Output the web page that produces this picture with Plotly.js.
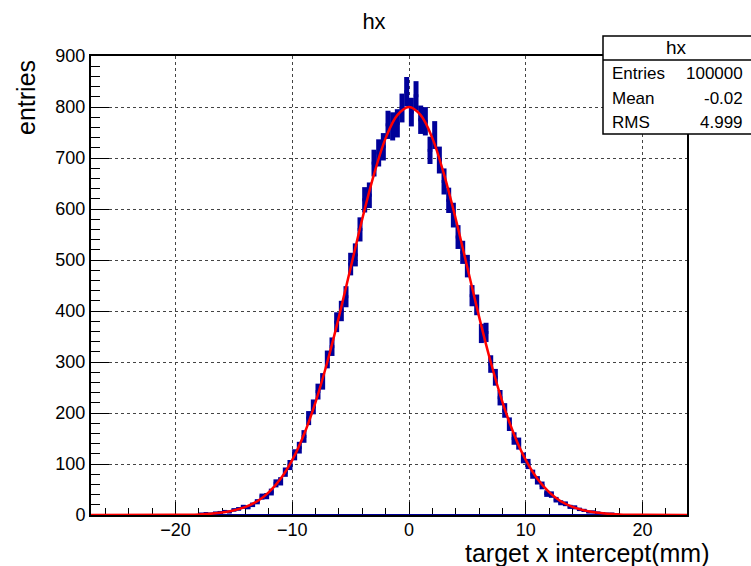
<!DOCTYPE html>
<html><head><meta charset="utf-8">
<script src="https://cdn.plot.ly/plotly-3.0.1.min.js"></script>
<style>html,body{margin:0;padding:0;background:#fff;} #chart{width:751px;height:566px;}</style>
</head><body><div id="chart"></div>
<script>
const histTitle = 'hx';
const xTitle = 'target x intercept(mm)';
const yTitle = 'entries';
const histRange = [-27.25, 23.82];
const yRange = [0, 900];
const binStart = -17.8;
const binWidth = 0.4;
const counts = [2,3,2,4,5,7,6,10,12,16,
 15,20,26,36,37,45,62,66,84,98,
 118,132,154,190,212,242,262,305,330,378,
 400,428,492,510,560,618,627,690,710,722,
 765,762,768,798,830,790,822,775,772,715,
 745,696,654,617,588,545,515,488,430,412,
 356,358,296,270,230,205,178,150,140,112,
 100,80,68,58,42,40,30,24,22,16,
 15,11,9,6,6,4,3,2,2,1];
const fitX = [-27.25,-20,-19,-18,-17,-16,-15,-14,-13,-12,-11,-10,-9,-8,-7,-6,-5,-4,-3,-2,-1,0,
  1,2,3,4,5,6,7,8,9,10,11,12,13,14,15,16,17,18,19,20,23.82];
const fitY = [0,0.27,0.6,1.2,2.5,4.8,9,16,27,45,71,108,158,222,300,389,485,581,668,739,784,800,
  784,739,668,581,485,389,300,222,158,108,71,45,27,16,9,4.8,2.5,1.2,0.6,0.27,0];
const statHeader = 'hx';
const statLabels = ['Entries', 'Mean', 'RMS'];
const statValues = ['100000', '-0.02', '4.999'];

const FONT = '"Liberation Sans", Arial, Helvetica, sans-serif';
const NAVY = '#000099';
const L = 91, R = 687, T = 56, B = 515, W = 751, H = 566;
const px = x => (x - L) / (R - L);
const py = y => (B - y) / (B - T);

const centers = counts.map((c, i) => binStart + i * binWidth);
const errs = counts.map(c => Math.sqrt(c));

const traces = [
  {x: histRange, y: [0, 0], mode: 'lines', line: {color: NAVY, width: 2}, hoverinfo: 'skip'},
  {x: centers, y: counts, mode: 'markers', marker: {size: 1, color: NAVY},
   error_y: {type: 'data', array: errs, visible: true, thickness: 5, width: 0, color: NAVY},
   error_x: {type: 'constant', value: binWidth / 2, visible: true, thickness: 3, width: 0, color: NAVY}},
  {x: fitX, y: fitY, mode: 'lines', line: {color: '#ff0000', width: 2.5, shape: 'spline', smoothing: 1}}
];

const axisCommon = {
  ticks: 'inside', tickcolor: '#000', tickwidth: 1,
  showgrid: true, gridcolor: '#444', griddash: 'dot', gridwidth: 1,
  showline: true, mirror: true, linecolor: '#000', linewidth: 2,
  zeroline: false, layer: 'below traces',
  tickfont: {family: FONT, size: 18, color: '#000'}
};

const layout = {
  width: W, height: H,
  margin: {l: L, r: W - R, t: T, b: H - B, pad: 0},
  paper_bgcolor: '#fff', plot_bgcolor: '#fff',
  showlegend: false,
  font: {family: FONT, color: '#000'},
  title: {text: histTitle, xref: 'container', yref: 'container', x: 374 / W, y: 1 - 21 / H,
          xanchor: 'center', yanchor: 'middle', font: {family: FONT, size: 22, color: '#000'}},
  xaxis: Object.assign({}, axisCommon, {
    range: histRange, tick0: 0, dtick: 10, ticklen: 13, ticklabelstandoff: -3,
    minor: {ticks: 'inside', ticklen: 7, tick0: 0, dtick: 2, tickcolor: '#000', tickwidth: 1, showgrid: false}
  }),
  yaxis: Object.assign({}, axisCommon, {
    range: yRange, tick0: 0, dtick: 100, ticklen: 18,
    minor: {ticks: 'inside', ticklen: 9, tick0: 0, dtick: 20, tickcolor: '#000', tickwidth: 1, showgrid: false}
  }),
  shapes: [
    {type: 'rect', xref: 'paper', yref: 'paper', x0: px(603), x1: px(760), y0: py(134), y1: py(36),
     line: {color: '#000', width: 1.5}, fillcolor: '#fff', layer: 'above'},
    {type: 'line', xref: 'paper', yref: 'paper', x0: px(603), x1: px(760), y0: py(60), y1: py(60),
     line: {color: '#000', width: 1.5}, layer: 'above'}
  ],
  annotations: [
    {text: yTitle, xref: 'paper', yref: 'paper', x: px(26), y: py(98), textangle: -90,
     xanchor: 'center', yanchor: 'middle', showarrow: false, font: {family: FONT, size: 25, color: '#000'}},
    {text: xTitle, xref: 'paper', yref: 'paper', x: px(712), y: py(553),
     xanchor: 'right', yanchor: 'middle', showarrow: false, font: {family: FONT, size: 25, color: '#000'}},
    {text: statHeader, xref: 'paper', yref: 'paper', x: px(676), y: py(48),
     xanchor: 'center', yanchor: 'middle', showarrow: false, font: {family: FONT, size: 19, color: '#000'}}
  ]
};
const rowsY = [74, 98, 122];
statLabels.forEach((lab, i) => {
  layout.annotations.push({text: lab, xref: 'paper', yref: 'paper', x: px(610), y: py(rowsY[i]),
    xanchor: 'left', yanchor: 'middle', showarrow: false, font: {family: FONT, size: 17, color: '#000'}});
  layout.annotations.push({text: statValues[i], xref: 'paper', yref: 'paper', x: px(745), y: py(rowsY[i]),
    xanchor: 'right', yanchor: 'middle', showarrow: false, font: {family: FONT, size: 17, color: '#000'}});
});

Plotly.newPlot('chart', traces, layout, {staticPlot: true, displayModeBar: false});
</script>
</body></html>
